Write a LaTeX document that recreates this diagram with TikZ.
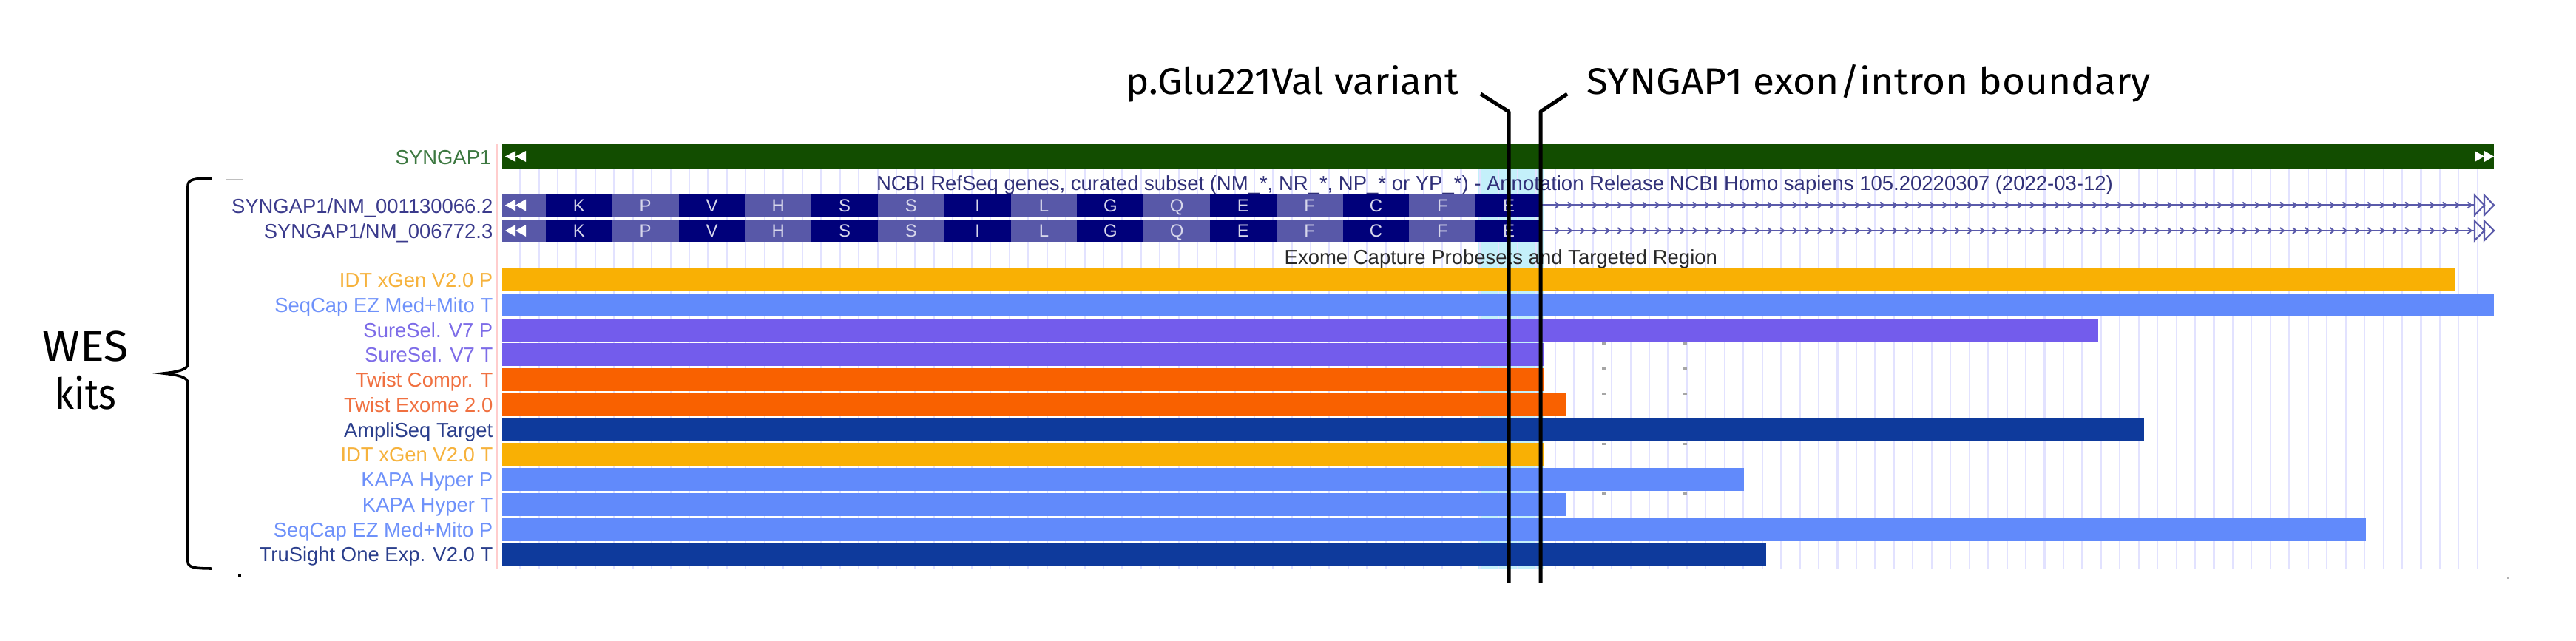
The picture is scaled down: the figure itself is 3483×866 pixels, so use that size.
\documentclass[tikz,border=0pt]{standalone}
\usepackage{fontspec}
\setmainfont{Liberation Sans}
\newfontfamily\annfont{Fira Sans}
\usepackage{graphicx}
\newbox\fitbx
\newcommand\fitw[2]{\setbox\fitbx=\hbox{#2}\pgfmathsetmacro\fitf{(#1)/(\the\wd\fitbx)}\scalebox{\fitf}[1]{\box\fitbx}}
\definecolor{genegreen}{RGB}{18,77,0}
\definecolor{genelab}{RGB}{60,120,64}
\definecolor{txdark}{RGB}{0,0,122}
\definecolor{txlight}{RGB}{88,88,168}
\definecolor{txlab}{RGB}{58,58,140}
\definecolor{txline}{RGB}{90,90,170}
\definecolor{codonlet}{RGB}{215,215,235}
\definecolor{gridc}{RGB}{226,226,255}
\definecolor{pinkc}{RGB}{255,205,205}
\definecolor{hlc}{RGB}{196,240,250}
\definecolor{idtc}{RGB}{249,176,4}
\definecolor{idtl}{RGB}{246,178,60}
\definecolor{seqc}{RGB}{97,138,251}
\definecolor{seql}{RGB}{110,145,250}
\definecolor{surec}{RGB}{115,92,236}
\definecolor{surel}{RGB}{125,108,232}
\definecolor{twc}{RGB}{249,97,0}
\definecolor{twl}{RGB}{240,112,64}
\definecolor{ampc}{RGB}{14,58,156}
\definecolor{ampl}{RGB}{42,62,140}
\definecolor{titlec}{RGB}{48,48,120}
\definecolor{exomec}{RGB}{40,40,40}
\begin{document}
\begin{tikzpicture}[x=0.01cm,y=-0.01cm,
  lab/.style={anchor=base east,inner sep=0pt,font=\fontsize{7.8pt}{9pt}\selectfont},
  codon/.style={anchor=base,inner sep=0pt,text=codonlet,font=\fontsize{6.8pt}{8pt}\selectfont},
  ann/.style={anchor=base west,inner sep=0pt,font=\annfont\fontsize{14.2pt}{17pt}\selectfont},
  wes/.style={anchor=base,inner sep=0pt,font=\annfont\fontsize{16.5pt}{19pt}\selectfont},
  ptr/.style={line width=1.42pt,black,line join=round},
  bracestyle/.style={line width=1pt,black},
  gridline/.style={gridc,line width=0.6pt},
  tick/.style={fill=gray!70}]
\useasboundingbox (0,0) rectangle (3483,866);
\fill[white] (0,0) rectangle (3483,866);
% highlight column
\fill[hlc] (1999,228) rectangle (2088,770);
% grid lines
\foreach \i in {0,...,104} {
  \pgfmathsetmacro\gx{703+25.45*\i}
  \draw[gridline] (\gx,228) -- (\gx,770);
}
% left pink border
\draw[pinkc,line width=0.6pt] (672,195) -- (672,770);
% gene bar
\fill[genegreen] (679,195) rectangle (3372,228);
\fill[white] (683,211.5) -- (697,204) -- (697,219) -- cycle;
\fill[white] (697,211.5) -- (711,204) -- (711,219) -- cycle;
\fill[white] (3359,211.5) -- (3346,204) -- (3346,219) -- cycle;
\fill[white] (3372,211.5) -- (3359,204) -- (3359,219) -- cycle;
\node[lab,text=genelab] (genelabel) at (665,222) {SYNGAP1};
% track titles
\node[anchor=base,inner sep=0pt,text=titlec,font=\fontsize{7.8pt}{9pt}\selectfont] (ncbi) at (2021,257)
  {\fitw{16.71cm}{NCBI RefSeq genes, curated subset (NM\_*, NR\_*, NP\_* or YP\_*) - Annotation Release NCBI Homo sapiens 105.20220307 (2022-03-12)}};
\node[anchor=base west,inner sep=0pt,text=exomec,font=\fontsize{7.8pt}{9pt}\selectfont] (exome) at (1736,357)
  {\fitw{5.85cm}{Exome Capture Probesets and Targeted Region}};
% transcripts
\foreach \ya/\yb/\nm in {262/293/SYNGAP1/NM\_001130066.2, 297/327/SYNGAP1/NM\_006772.3} {
  \pgfmathsetmacro\yc{(\ya+\yb)/2}
  \fill[txlight] (679,\ya) rectangle (738,\yb);
  \fill[white] (683,\yc) -- (697,{\yc-8}) -- (697,{\yc+8}) -- cycle;
  \fill[white] (697,\yc) -- (711,{\yc-8}) -- (711,{\yc+8}) -- cycle;
  \foreach \k/\L/\cc in {0/K/txdark,1/P/txlight,2/V/txdark,3/H/txlight,4/S/txdark,5/S/txlight,6/I/txdark,7/L/txlight,8/G/txdark,9/Q/txlight,10/E/txdark,11/F/txlight,12/C/txdark,13/F/txlight,14/E/txdark} {
    \pgfmathsetmacro\xa{738+89.8*\k}
    \pgfmathsetmacro\xb{738+89.8*(\k+1)}
    \fill[\cc] (\xa,\ya) rectangle (\xb,\yb);
    \node[codon] at ({(\xa+\xb)/2},{\yc+8.5}) {\L};
  }
  \draw[txline,line width=0.7pt] (2085,\yc) -- (3346,\yc);
  \foreach \j in {0,...,73} {
    \pgfmathsetmacro\ax{2105.8+16.9*\j}
    \draw[txline,line width=0.55pt] ({\ax-3},{\yc-4}) -- ({\ax+2},\yc) -- ({\ax-3},{\yc+4});
  }
  \draw[txline,line width=0.6pt,line join=miter] (3346,{\ya+2}) -- (3359,\yc) -- (3346,{\yb-2}) -- cycle;
  \draw[txline,line width=0.6pt,line join=miter] (3359,{\ya+2}) -- (3372,\yc) -- (3359,{\yb-2}) -- cycle;
}
\node[lab,text=txlab] (tx1label) at (667,288) {SYNGAP1/NM\_001130066.2};
\node[lab,text=txlab] (tx2label) at (667,322) {SYNGAP1/NM\_006772.3};
% kit bars
\foreach \i/\xe/\bc/\lc/\txt in {
  0/3319/idtc/idtl/IDT xGen V2.0 P,
  1/3372/seqc/seql/SeqCap EZ Med+Mito T,
  2/2837/surec/surel/SureSel. V7 P,
  3/2088/surec/surel/SureSel. V7 T,
  4/2088/twc/twl/Twist Compr. T,
  5/2118/twc/twl/Twist Exome 2.0,
  6/2899/ampc/ampl/AmpliSeq Target,
  7/2088/idtc/idtl/IDT xGen V2.0 T,
  8/2358/seqc/seql/KAPA Hyper P,
  9/2118/seqc/seql/KAPA Hyper T,
  10/3199/seqc/seql/SeqCap EZ Med+Mito P,
  11/2388/ampc/ampl/TruSight One Exp. V2.0 T} {
  \pgfmathsetmacro\c{378.5+33.75*\i}
  \fill[\bc] (679,{\c-15.5}) rectangle (\xe,{\c+15.5});
  \node[lab,text=\lc] (kit\i) at (667,{\c+10}) {\txt};
}
% small tick marks
\foreach \ty in {464,498,532,600,667} {
  \fill[tick] (2166,{\ty-1.5}) rectangle (2171,{\ty+1.5});
  \fill[tick] (2276,{\ty-1.5}) rectangle (2281,{\ty+1.5});
}
\fill[black] (322,776) rectangle (326,780);
\fill[gray!60] (3390,780) rectangle (3393,783);
\draw[gray!50,line width=0.3pt] (306,243) -- (328,243);
% annotation texts and pointers
\node[ann] (variant) at (1522,127) {\fitw{4.50cm}{p.Glu221Val variant}};
\node[ann] (boundary) at (2145,127) {\fitw{7.62cm}{SYNGAP1 exon/intron boundary}};
\coordinate (va) at (2002,127);
\coordinate (vb) at (2040,151);
\coordinate (vc) at (2040,788);
\coordinate (ba) at (2119,127);
\coordinate (bb) at (2083,151);
\coordinate (bc) at (2083,788);
\draw[ptr] (va) -- (vb) -- (vc);
\draw[ptr] (ba) -- (bb) -- (bc);
% WES kits brace
\coordinate (brtop) at (286,241);
\coordinate (brtip) at (221,505);
\coordinate (brbot) at (286,769);
\draw[bracestyle] (brtop) .. controls (262,241) and (254,243) .. (254,251) -- (254,492)
  .. controls (254,500) and (240,503) .. (brtip)
  .. controls (240,507) and (254,510) .. (254,518) -- (254,760)
  .. controls (254,767) and (262,769) .. (brbot);
\node[wes] (wes) at (116,488) {\fitw{1.16cm}{WES}};
\node[wes] (kits) at (116,553) {\fitw{0.82cm}{kits}};
\end{tikzpicture}
\end{document}
